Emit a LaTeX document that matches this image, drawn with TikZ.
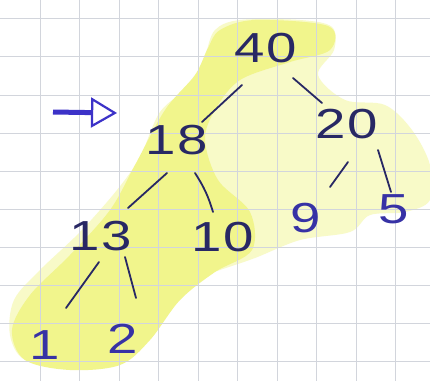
\documentclass[tikz,border=0pt]{standalone}
\usepackage{fontspec}
\setmainfont{Liberation Sans}[FakeStretch=1.3, LetterSpace=4]
\usetikzlibrary{arrows.meta,calc}
\definecolor{ink}{RGB}{40,40,100}
\definecolor{inkb}{RGB}{55,50,165}
\definecolor{arrowblue}{RGB}{60,50,200}
\definecolor{gridc}{RGB}{210,213,220}
\definecolor{hlpale}{RGB}{248,250,200}
\definecolor{hl}{RGB}{241,245,140}
\begin{document}
\begin{tikzpicture}[x=1pt,y=-1pt,
  num/.style={text=ink, font=\fontsize{42}{42}\selectfont, inner sep=0pt},
  numb/.style={num, text=inkb},
  edge/.style={draw=ink, line width=1.8pt, line cap=round},
  gridline/.style={draw=gridc, line width=0.7pt},
  pointer/.style={draw=arrowblue, line width=5pt,
    -{Triangle[open, length=26pt, width=30pt, line width=2.2pt]}}]
\fill[white] (0,0) rectangle (430,381);
\useasboundingbox (0,0) rectangle (430,381);
% highlighter
\fill[hlpale] plot[smooth cycle, tension=0.55] coordinates {
  (215,30) (240,20) (300,20) (332,27) (334,50) (318,75) (345,100) (385,105)
  (412,130) (430,165) (430,200) (405,212) (370,215) (350,232) (300,240)
  (255,258) (220,270) (193,280) (167,305) (140,340) (115,362) (70,368)
  (25,360) (10,335) (14,300) (40,270) (80,232) (117,190) (140,157)
  (160,112) (190,85) (205,55)};
\fill[hl] plot[smooth cycle, tension=0.55] coordinates {
  (220,30) (255,20) (328,26) (330,50) (290,62) (240,80) (215,110)
  (205,140) (218,180) (250,212) (252,250) (215,272) (180,300) (150,340)
  (120,365) (70,370) (25,360) (12,330) (30,295) (70,255) (110,210)
  (135,165) (165,110) (195,75) (208,48)};
% grid
\foreach \x in {40,79.5,119,158.5,198,237.5,277,316.5,356,395.5}
  \draw[gridline] (\x,0) -- (\x,381);
\foreach \y in {18,56.5,95,133,171,209,247,285,323,361}
  \draw[gridline] (0,\y) -- (430,\y);
% numbers
\node[num]  (n40) at (266,48)  {40};
\node[num]  (n18) at (177,140) {18};
\node[num]  (n20) at (347,124) {20};
\node[num]  (n13) at (101,236) {13};
\node[num]  (n10) at (223,237) {10};
\node[numb] (n9)  at (306,218) {9};
\node[numb] (n5)  at (394,209) {5};
\node[numb] (n1)  at (45,345)  {1};
\node[numb] (n2)  at (123,339) {2};
% edges
\draw[edge] ($(n40)+(-24,37)$) -- ($(n18)+(25,-18)$);
\draw[edge] ($(n40)+(27,30)$) -- ($(n20)+(-25,-21)$);
\draw[edge] ($(n18)+(-10,33)$) -- ($(n13)+(27,-28)$);
\draw[edge] ($(n18)+(18,33)$) to[bend left=8] ($(n10)+(-10,-25)$);
\draw[edge] ($(n20)+(1,38)$) -- ($(n9)+(24,-31)$);
\draw[edge] ($(n20)+(31,26)$) -- ($(n5)+(-3,-17)$);
\draw[edge] ($(n13)+(-2,26)$) -- ($(n1)+(21,-37)$);
\draw[edge] ($(n13)+(24,21)$) -- ($(n2)+(13,-41)$);
% pointer arrow
\coordinate (atail) at (53,112);
\coordinate (ahead) at (117,113);
\draw[pointer] (atail) -- (ahead);
\end{tikzpicture}
\end{document}
